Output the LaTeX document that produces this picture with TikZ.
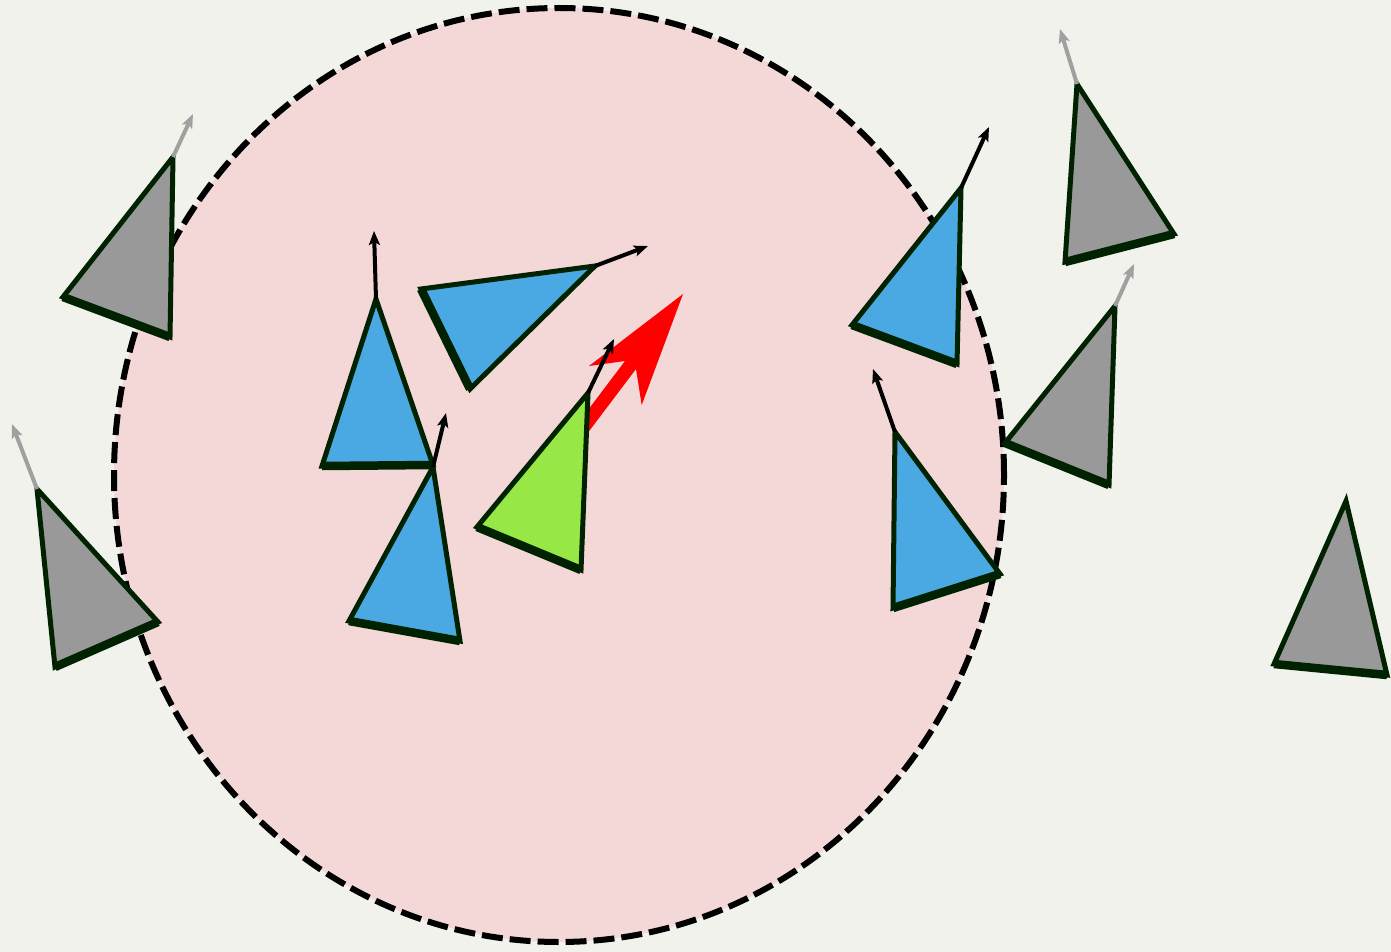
\documentclass[tikz,border=0pt]{standalone}
\usepackage{tikz}
\usetikzlibrary{arrows.meta,calc}
\definecolor{bgcol}{HTML}{F1F2EC}
\definecolor{pinkfill}{HTML}{F4D8D8}
\definecolor{agentblue}{HTML}{4AA9E3}
\definecolor{agentgreen}{HTML}{97E847}
\definecolor{agentgray}{HTML}{999999}
\definecolor{edgegreen}{HTML}{002200}
\definecolor{arrowgray}{HTML}{A0A0A0}

\begin{document}
\begin{tikzpicture}[x=1pt,y=-1pt,
    agent/.style={draw=edgegreen,line width=5pt,line join=miter},
    agentbase/.style={draw=edgegreen,line width=8.5pt,line cap=butt},
    heading/.style={-{Stealth[length=14pt,width=11pt,inset=3pt]},line width=4pt}]
            %Background
            \useasboundingbox (0,0) rectangle (1391,952);
            \fill[bgcol] (0,0) rectangle (1391,952);
            %Neighbourhood
            \coordinate (c) at (559,475);
            \filldraw[fill=pinkfill,draw=black,line width=6pt,dash pattern=on 21pt off 7pt]
                (c) ellipse [x radius=445pt, y radius=467pt];
            %Red direction
            \coordinate (r1) at (683,294);
            \coordinate (r2) at (641.7,405);
            \coordinate (r3) at (636,369);
            \coordinate (r4) at (565,463);
            \coordinate (r5) at (554,455);
            \coordinate (r6) at (625,361);
            \coordinate (r7) at (589,366);
            \fill[red] (r1) -- (r2) -- (r3) -- (r4) -- (r5) -- (r6) -- (r7) -- cycle;
            %Agents: apex a, base b--c, heading h
            \coordinate (g1a) at (173,157);   \coordinate (g1b) at (63,297);    \coordinate (g1c) at (170,337);   \coordinate (g1h) at (193,114);
            \coordinate (g2a) at (1077,84);   \coordinate (g2b) at (1065,262);  \coordinate (g2c) at (1174,234);  \coordinate (g2h) at (1060,29);
            \coordinate (g3a) at (1115,306);  \coordinate (g3b) at (1005,443);  \coordinate (g3c) at (1109,485);  \coordinate (g3h) at (1134,264);
            \coordinate (g4a) at (37,489);    \coordinate (g4b) at (55,667);    \coordinate (g4c) at (158,622);   \coordinate (g4h) at (12,424);
            \coordinate (g5a) at (1346,501);  \coordinate (g5b) at (1274,664);  \coordinate (g5c) at (1387,675);
            \coordinate (b1a) at (376,299);   \coordinate (b1b) at (322,466);   \coordinate (b1c) at (433,465);   \coordinate (b1h) at (374,231);
            \coordinate (b2a) at (595,266);   \coordinate (b2b) at (421,289);   \coordinate (b2c) at (470,389);   \coordinate (b2h) at (648,246);
            \coordinate (b3a) at (433,467);   \coordinate (b3b) at (349,621);   \coordinate (b3c) at (460,641);   \coordinate (b3h) at (446,413);
            \coordinate (b4a) at (961,188);   \coordinate (b4b) at (852,325);   \coordinate (b4c) at (957,364);   \coordinate (b4h) at (989,127);
            \coordinate (b5a) at (895,432);   \coordinate (b5b) at (893,608);   \coordinate (b5c) at (1000,574);  \coordinate (b5h) at (873,369);
            \coordinate (fa) at (588,393);    \coordinate (fb) at (477,527);    \coordinate (fc) at (581,570);    \coordinate (fh) at (614,339);
            %Gray agents
            \filldraw[agent,fill=agentgray] (g1a) -- (g1b) -- (g1c) -- cycle;
            \filldraw[agent,fill=agentgray] (g2a) -- (g2b) -- (g2c) -- cycle;
            \filldraw[agent,fill=agentgray] (g3a) -- (g3b) -- (g3c) -- cycle;
            \filldraw[agent,fill=agentgray] (g4a) -- (g4b) -- (g4c) -- cycle;
            \filldraw[agent,fill=agentgray] (g5a) -- (g5b) -- (g5c) -- cycle;
            \draw[agentbase] (g1b) -- (g1c);
            \draw[agentbase] (g2b) -- (g2c);
            \draw[agentbase] (g3b) -- (g3c);
            \draw[agentbase] (g4b) -- (g4c);
            \draw[agentbase] (g5b) -- (g5c);
            \draw[heading,arrowgray] (g1a) -- (g1h);
            \draw[heading,arrowgray] (g2a) -- (g2h);
            \draw[heading,arrowgray] (g3a) -- (g3h);
            \draw[heading,arrowgray] (g4a) -- (g4h);
            %Blue agents
            \filldraw[agent,fill=agentblue] (b1a) -- (b1b) -- (b1c) -- cycle;
            \filldraw[agent,fill=agentblue] (b2a) -- (b2b) -- (b2c) -- cycle;
            \filldraw[agent,fill=agentblue] (b3a) -- (b3b) -- (b3c) -- cycle;
            \filldraw[agent,fill=agentblue] (b4a) -- (b4b) -- (b4c) -- cycle;
            \filldraw[agent,fill=agentblue] (b5a) -- (b5b) -- (b5c) -- cycle;
            \draw[agentbase] (b1b) -- (b1c);
            \draw[agentbase] (b2b) -- (b2c);
            \draw[agentbase] (b3b) -- (b3c);
            \draw[agentbase] (b4b) -- (b4c);
            \draw[agentbase] (b5b) -- (b5c);
            \draw[heading] (b1a) -- (b1h);
            \draw[heading] (b2a) -- (b2h);
            \draw[heading] (b3a) -- (b3h);
            \draw[heading] (b4a) -- (b4h);
            \draw[heading] (b5a) -- (b5h);
            %Focal agent
            \filldraw[agent,fill=agentgreen] (fa) -- (fb) -- (fc) -- cycle;
            \draw[agentbase] (fb) -- (fc);
            \draw[heading] (fa) -- (fh);
\end{tikzpicture}
\end{document}
